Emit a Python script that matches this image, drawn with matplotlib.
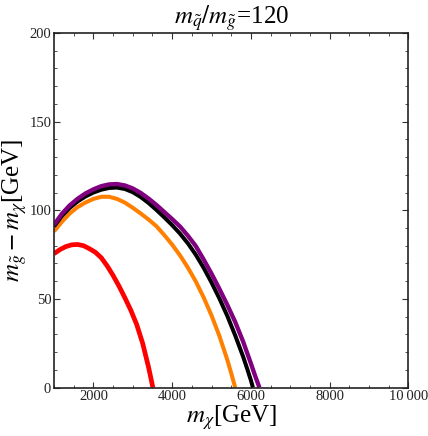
import matplotlib
matplotlib.use("Agg")
import matplotlib.pyplot as plt
from matplotlib.ticker import MultipleLocator, FixedLocator

plt.rcParams['font.family'] = ['Liberation Serif', 'DejaVu Serif']
plt.rcParams['mathtext.fontset'] = 'stix'

# Data (m_chi in GeV, mass splitting in GeV)
purple_x = [1000, 1200, 1400, 1600, 1800, 2000, 2200, 2400, 2600, 2800, 3000, 3200, 3400,
            3600, 3800, 4000, 4200, 4400, 4600, 4800, 5000, 5200, 5400, 5600, 5800, 6000,
            6100, 6215]
purple_y = [91.8, 98.0, 102.8, 106.5, 109.5, 111.8, 113.6, 114.6, 114.8, 114.0, 112.3, 109.8,
            106.6, 103.0, 99.0, 95.0, 90.8, 85.6, 79.8, 72.2, 64.2, 55.6, 46.6, 37.0, 26.0,
            13.5, 7.0, 0.0]

black_x = [1000, 1200, 1400, 1600, 1800, 2000, 2200, 2400, 2600, 2800, 3000, 3200, 3400,
           3600, 3800, 4000, 4200, 4400, 4600, 4800, 5000, 5200, 5400, 5600, 5800, 5900,
           6000, 6050]
black_y = [90.9, 96.8, 101.4, 105.0, 107.8, 110.0, 111.6, 112.6, 112.8, 112.0, 110.2, 107.5,
           104.1, 100.2, 96.0, 91.6, 86.8, 81.3, 74.9, 67.5, 59.2, 50.2, 40.4, 29.4, 17.5,
           10.9, 4.0, 0.0]

orange_x = [1000, 1200, 1400, 1600, 1800, 2000, 2200, 2400, 2600, 2800, 3000, 3200, 3400,
            3600, 3800, 4000, 4200, 4400, 4600, 4800, 5000, 5200, 5400, 5500, 5600]
orange_y = [88.1, 93.5, 98.2, 101.8, 104.4, 106.4, 107.6, 107.6, 106.4, 104.3, 101.4, 98.2,
            94.8, 91.0, 86.0, 80.6, 74.5, 67.6, 59.8, 50.8, 40.6, 29.0, 15.6, 8.0, 0.0]

red_x = [1000, 1150, 1300, 1450, 1600, 1750, 1900, 2050, 2200, 2350, 2500, 2650, 2800,
         2950, 3100, 3250, 3400, 3510]
red_y = [75.5, 77.8, 79.5, 80.5, 80.7, 80.0, 78.3, 76.3, 73.2, 68.6, 63.2, 57.2, 50.6,
         43.6, 35.5, 25.0, 11.5, 0.0]

x_ticks = [2000, 4000, 6000, 8000, 10000]
x_tick_labels = ["2000", "4000", "6000", "8000", "10\u2009000"]
y_ticks = [0, 50, 100, 150, 200]
y_tick_labels = ["0", "50", "100", "150", "200"]

fig = plt.figure(figsize=(4.28, 4.36), dpi=100)
ax = fig.add_axes([0.1262, 0.1112, 0.8282, 0.8131])

ax.plot(red_x, red_y, color='#ff0000', lw=3.4, solid_capstyle='butt', solid_joinstyle='round')
ax.plot(orange_x, orange_y, color='#ff8000', lw=2.9, solid_capstyle='butt', solid_joinstyle='round')
ax.plot(black_x, black_y, color='#000000', lw=2.9, solid_capstyle='butt', solid_joinstyle='round')
ax.plot(purple_x, purple_y, color='#800080', lw=3.1, solid_capstyle='butt', solid_joinstyle='round')

ax.set_xlim(1000, 10000)
ax.set_ylim(0, 200)

ax.xaxis.set_major_locator(FixedLocator(x_ticks))
ax.set_xticklabels(x_tick_labels)
ax.xaxis.set_minor_locator(MultipleLocator(500))
ax.yaxis.set_major_locator(FixedLocator(y_ticks))
ax.set_yticklabels(y_tick_labels)
ax.yaxis.set_minor_locator(MultipleLocator(10))

ax.tick_params(which='both', direction='in', top=True, right=True,
               color='#333333', labelsize=10.5, pad=2, labelcolor='#222222')
ax.tick_params(which='major', length=4, width=0.8)
ax.tick_params(which='minor', length=2, width=0.6)

for s in ax.spines.values():
    s.set_linewidth(1.2)
    s.set_color('#222222')

ax.set_title(r'$m_{\tilde{q}}/m_{\tilde{g}}$=120', fontsize=18, pad=6)
ax.set_xlabel(r'$m_{\chi}$[GeV]', fontsize=18, labelpad=0)
ax.set_ylabel(r'$m_{\tilde{g}}-m_{\chi}$[GeV]', fontsize=18, labelpad=0)

fig.savefig('out.png', dpi=100)
